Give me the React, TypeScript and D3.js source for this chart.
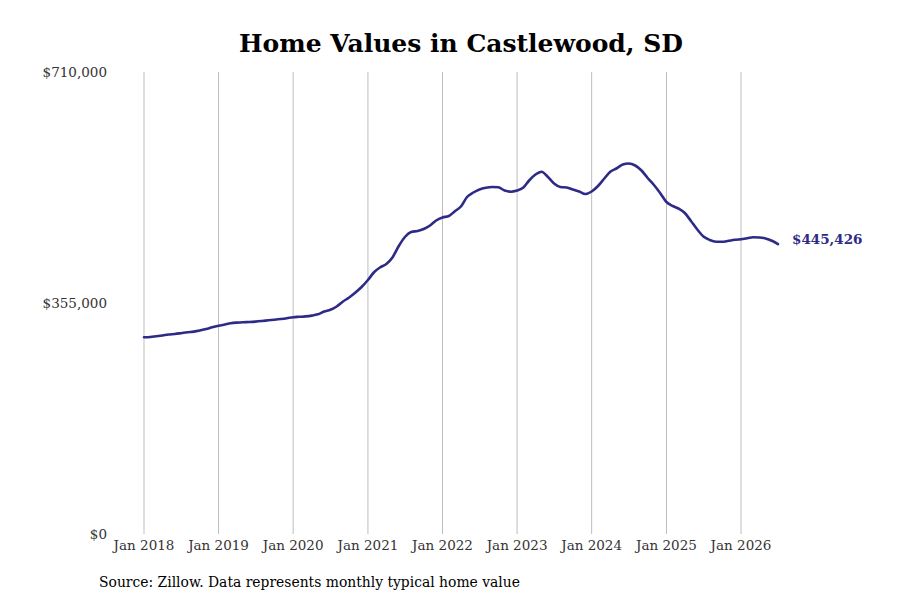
import React, { useEffect, useRef } from 'react';
import * as d3 from 'd3';

// Monthly typical home value, Jan 2018 .. Jul 2026
const values: number[] = [
  302290, 302750, 303830, 305050, 306590, 307360, 308590, 309970, 311050, 312740, 315040, 317650,
  319960, 321960, 323800, 324880, 325490, 325800, 326410, 327340, 328410, 329340, 330410, 331640,
  333180, 333790, 334410, 335640, 337630, 341940, 344550, 349620, 357310, 363450, 371140, 379590,
  390350, 402640, 409560, 414940, 424920, 442600, 456430, 464110, 465650, 468720, 474100, 481790,
  486400, 488700, 495620, 503300, 517900, 524820, 529430, 532040, 533270, 532810, 527890, 526050,
  527890, 532500, 543260, 552480, 556780, 548640, 538650, 533270, 532500, 529430, 526350, 522510,
  526350, 534810, 545560, 556780, 561700, 567850, 569380, 566310, 558620, 547100, 536340, 524050,
  510220, 504070, 500230, 493310, 481020, 467960, 457200, 451820, 449210, 449050, 450590, 452130,
  453050, 454430, 456120, 455660, 454120, 450590, 445426,
];
const startDate = new Date(2018, 0, 1);
const dates: Date[] = values.map((_, i) => d3.timeMonth.offset(startDate, i));
const yTicks: number[] = [0, 355000, 710000];
const xTickYears: number[] = [2018, 2019, 2020, 2021, 2022, 2023, 2024, 2025, 2026];
const lastLabel = '$445,426';

const W = 900;
const H = 600;
const FONT = '"DejaVu Serif", serif';
const LINE = '#2e2b86';

export default function App() {
  const svgRef = useRef<SVGSVGElement>(null);

  useEffect(() => {
    if (!svgRef.current) return;
    const svg = d3.select(svgRef.current);
    svg.selectAll('*').remove();

    const x = d3.scaleTime().domain([dates[0], dates[dates.length - 1]]).range([144, 778]);
    const y = d3.scaleLinear().domain([0, 710000]).range([534, 72]);

    svg.append('rect').attr('width', W).attr('height', H).attr('fill', '#fff');

    // title
    svg.append('text')
      .attr('x', 461).attr('y', 52)
      .attr('text-anchor', 'middle')
      .attr('font-family', FONT).attr('font-weight', 'bold').attr('font-size', 25)
      .attr('fill', '#000')
      .text('Home Values in Castlewood, SD');

    // vertical grid
    const ticks = xTickYears.map(yr => new Date(yr, 0, 1));
    svg.append('g').selectAll('line').data(ticks).join('line')
      .attr('x1', d => x(d)).attr('x2', d => x(d))
      .attr('y1', 72).attr('y2', 534)
      .attr('stroke', '#bdbdbd').attr('stroke-width', 1);

    // x labels
    svg.append('g').selectAll('text').data(ticks).join('text')
      .attr('x', d => x(d)).attr('y', 550)
      .attr('text-anchor', 'middle')
      .attr('font-family', FONT).attr('font-size', 13.5)
      .attr('fill', '#333')
      .text(d => d3.timeFormat('Jan %Y')(d));

    // y labels
    svg.append('g').selectAll('text').data(yTicks).join('text')
      .attr('x', 107).attr('y', d => y(d))
      .attr('dy', '0.35em')
      .attr('text-anchor', 'end')
      .attr('font-family', FONT).attr('font-size', 13.5)
      .attr('fill', '#333')
      .text(d => d3.format('$,')(d));

    const line = d3.line<number>()
      .x((_, i) => x(dates[i]))
      .y(d => y(d))
      .curve(d3.curveMonotoneX);

    svg.append('path')
      .datum(values)
      .attr('fill', 'none')
      .attr('stroke', LINE)
      .attr('stroke-width', 2.6)
      .attr('stroke-linejoin', 'round')
      .attr('stroke-linecap', 'round')
      .attr('d', line);

    // end label
    const last = values[values.length - 1];
    svg.append('text')
      .attr('x', 792).attr('y', y(last) - 5)
      .attr('dy', '0.35em')
      .attr('font-family', FONT).attr('font-weight', 'bold').attr('font-size', 13.5)
      .attr('fill', LINE)
      .text(lastLabel);

    // source
    svg.append('text')
      .attr('x', 99).attr('y', 587)
      .attr('font-family', FONT).attr('font-size', 13.9)
      .attr('fill', '#000')
      .text('Source: Zillow. Data represents monthly typical home value');
  }, []);

  return (
    <div style={{ position: 'absolute', left: 0, top: 0 }}>
      <svg ref={svgRef} width={W} height={H} style={{ display: 'block' }} />
    </div>
  );
}
